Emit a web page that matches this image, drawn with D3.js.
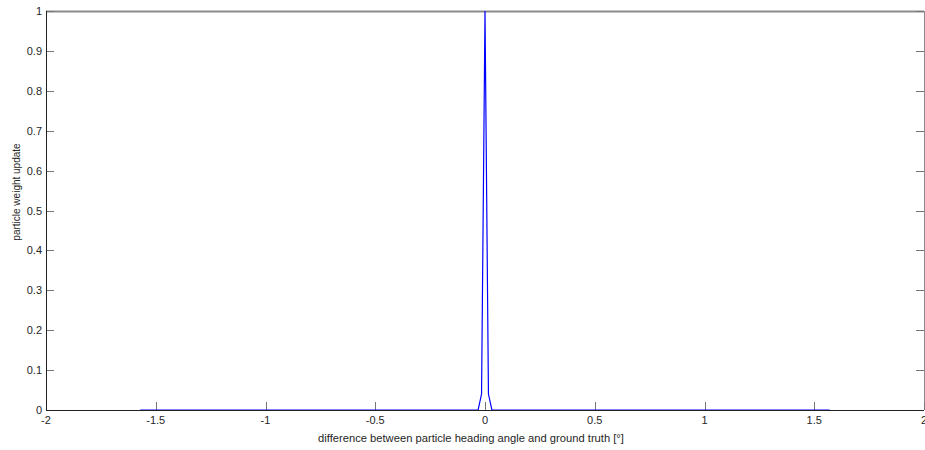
<!DOCTYPE html>
<html>
<head>
<meta charset="utf-8">
<script src="https://cdn.jsdelivr.net/npm/d3@7"></script>
<style>
  body { margin: 0; background: #fff; }
  svg { display: block; }
  text { font-family: 'Liberation Sans', Arial, sans-serif; font-size: 11px; fill: #262626; }
</style>
</head>
<body>
<svg id="chart" width="925" height="450"></svg>
<script>
// curve samples (angle difference, weight)
const angles = [-1.5708, -0.0314, -0.0157, 0, 0.0157, 0.0314, 1.5708];
const weights = [0, 0, 0.04, 1, 0.04, 0, 0];

const xTicks = [-2, -1.5, -1, -0.5, 0, 0.5, 1, 1.5, 2];
const yTicks = [0, 0.1, 0.2, 0.3, 0.4, 0.5, 0.6, 0.7, 0.8, 0.9, 1];

const xTitle = 'difference between particle heading angle and ground truth [\u00b0]';
const yTitle = 'particle weight update';

const margin = { left: 46, right: 924, top: 11, bottom: 410 };

const svg = d3.select('#chart');

const x = d3.scaleLinear()
    .domain([-2, 2])
    .range([margin.left, margin.right]);

const y = d3.scaleLinear()
    .domain([0, 1])
    .range([margin.bottom, margin.top]);

// box (top and right)
svg.append('line')
    .attr('x1', margin.left).attr('x2', margin.right)
    .attr('y1', margin.top + 0.5).attr('y2', margin.top + 0.5)
    .attr('stroke', '#8c8c8c').attr('stroke-width', 2);

svg.append('line')
    .attr('x1', margin.right + 0.5).attr('x2', margin.right + 0.5)
    .attr('y1', margin.top).attr('y2', margin.bottom)
    .attr('stroke', '#8c8c8c').attr('stroke-width', 1);

// inner ticks
svg.append('g')
    .selectAll('line')
    .data(xTicks)
    .enter()
    .append('line')
    .attr('x1', d => Math.round(x(d)) + 0.5)
    .attr('x2', d => Math.round(x(d)) + 0.5)
    .attr('y1', margin.bottom)
    .attr('y2', margin.bottom - 8)
    .attr('stroke', '#777');

svg.append('g')
    .selectAll('line')
    .data(yTicks)
    .enter()
    .append('line')
    .attr('x1', margin.left)
    .attr('x2', margin.left + 8)
    .attr('y1', d => Math.round(y(d)) + 0.5)
    .attr('y2', d => Math.round(y(d)) + 0.5)
    .attr('stroke', '#777');

svg.append('g')
    .selectAll('line')
    .data(yTicks)
    .enter()
    .append('line')
    .attr('x1', margin.right)
    .attr('x2', margin.right - 8)
    .attr('y1', d => Math.round(y(d)) + 0.5)
    .attr('y2', d => Math.round(y(d)) + 0.5)
    .attr('stroke', '#777');

// the curve
const lineGen = d3.line()
    .x(d => x(d[0]))
    .y(d => y(d[1]));

svg.append('path')
    .attr('d', lineGen(d3.zip(angles, weights)))
    .attr('stroke', '#0000ff')
    .attr('stroke-width', 1.2)
    .attr('fill', 'none');

// axis lines
svg.append('line')
    .attr('x1', margin.left).attr('x2', margin.right)
    .attr('y1', margin.bottom + 0.5).attr('y2', margin.bottom + 0.5)
    .attr('stroke', '#222');

svg.append('line')
    .attr('x1', margin.left + 0.5).attr('x2', margin.left + 0.5)
    .attr('y1', margin.top).attr('y2', margin.bottom)
    .attr('stroke', '#222');

// tick labels
svg.append('g')
    .selectAll('text')
    .data(xTicks)
    .enter()
    .append('text')
    .attr('x', d => x(d))
    .attr('y', margin.bottom + 14)
    .attr('text-anchor', 'middle')
    .text(d => d3.format('')(d).replace('\u2212', '-'));

svg.append('g')
    .selectAll('text')
    .data(yTicks)
    .enter()
    .append('text')
    .attr('x', margin.left - 4)
    .attr('y', d => y(d) + 4)
    .attr('text-anchor', 'end')
    .text(d => d);

// titles
svg.append('text')
    .attr('x', 471)
    .attr('y', 442)
    .attr('text-anchor', 'middle')
    .style('font-size', '11.2px')
    .text(xTitle);

svg.append('text')
    .attr('transform', 'translate(20,192) rotate(-90)')
    .attr('text-anchor', 'middle')
    .style('font-size', '10px')
    .text(yTitle);
</script>
</body>
</html>
